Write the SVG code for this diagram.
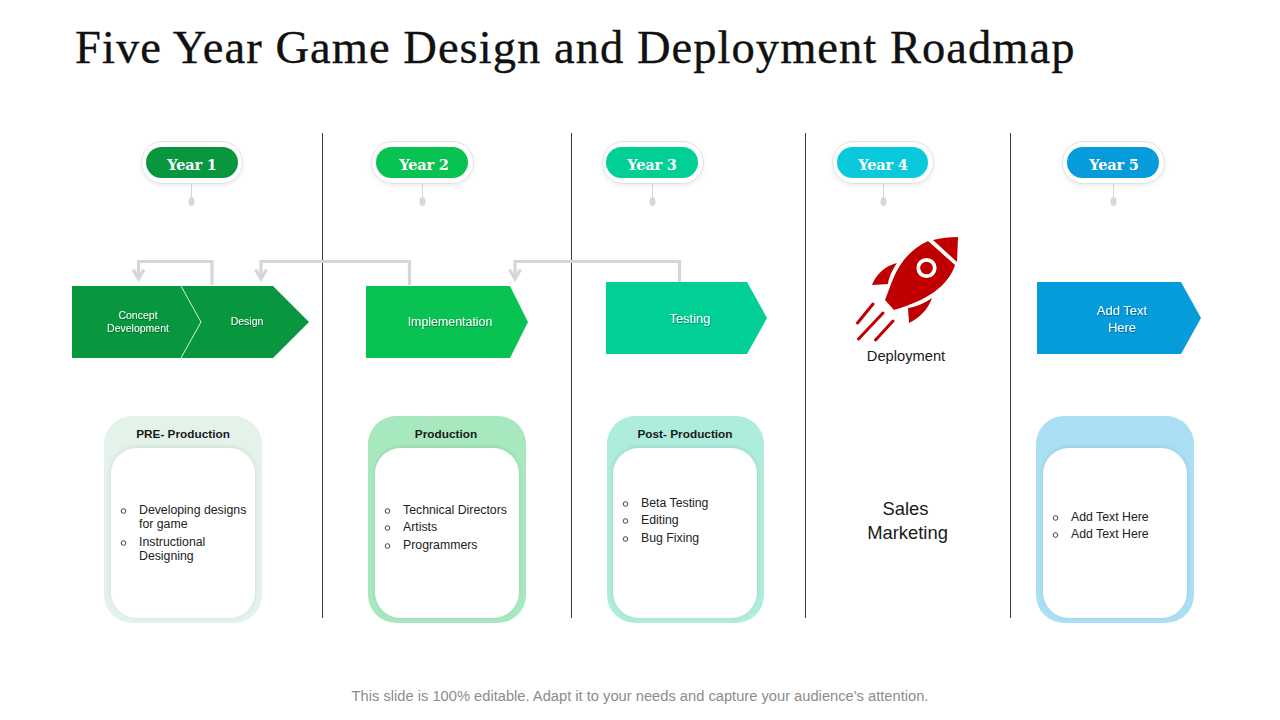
<svg xmlns="http://www.w3.org/2000/svg" width="1280" height="720" viewBox="0 0 1280 720">
<defs>
<filter id="soft" x="-20%" y="-20%" width="140%" height="150%"><feDropShadow dx="0" dy="2" stdDeviation="2" flood-color="#000" flood-opacity="0.07"/></filter>
<filter id="inner" x="-10%" y="-10%" width="120%" height="120%"><feDropShadow dx="0" dy="-1" stdDeviation="2" flood-color="#000" flood-opacity="0.10"/></filter>
<filter id="ts" x="-10%" y="-20%" width="120%" height="150%"><feDropShadow dx="0.5" dy="1" stdDeviation="0.5" flood-color="#000" flood-opacity="0.35"/></filter>
<g id="pin"><line x1="0" y1="-15" x2="0" y2="0" stroke="#d4d4d4" stroke-width="1"/><ellipse cx="0" cy="2.500" rx="3" ry="4.500" fill="#d8d8d8"/></g>
</defs>
<style>
text{font-family:"Liberation Sans",Arial,sans-serif}
.title{font-family:"Liberation Serif","Times New Roman",serif;font-size:46.5px;fill:#111;letter-spacing:1.05px;stroke:#111;stroke-width:.35px}
.yr{font-family:"DejaVu Serif",serif;font-size:14.5px;font-weight:700;fill:#fff;text-anchor:middle;letter-spacing:-.2px}
.ring{fill:#fff;stroke:#e0e0e0;stroke-width:1;filter:url(#soft)}
.div{stroke:#3c3c3c;stroke-width:1;fill:none}
.conn{fill:none;stroke:#d6d6d6;stroke-width:3.2}
.ch{fill:#fff;text-anchor:middle;filter:url(#ts)}
.head{font-size:11.800px;font-weight:700;fill:#1a1a1a;text-anchor:middle}
.li{font-size:12.300px;fill:#222}
.bul{fill:none;stroke:#333;stroke-width:.9}
.inner{fill:#fff;filter:url(#inner)}
</style>
<rect width="1280" height="720" fill="#fff"/>
<text class="title" x="75" y="63">Five Year Game Design and Deployment Roadmap</text>
<g id="dividers" class="div">
<line x1="322.500" y1="133" x2="322.500" y2="618"/>
<line x1="571.500" y1="133" x2="571.500" y2="618"/>
<line x1="805.500" y1="133" x2="805.500" y2="618"/>
<line x1="1010.500" y1="133" x2="1010.500" y2="618"/>
</g>
<g id="year1"><rect class="ring" x="141.500" y="141.500" width="101" height="42" rx="21"/><rect x="146" y="147" width="92" height="31" rx="15.500" fill="#08973f"/><text class="yr" x="192" y="170">Year 1</text><use href="#pin" x="191.500" y="199"/></g>
<g id="year2"><rect class="ring" x="371.500" y="141.500" width="102" height="42" rx="21"/><rect x="376" y="147" width="92" height="31" rx="15.500" fill="#08c352"/><text class="yr" x="424" y="170">Year 2</text><use href="#pin" x="422.500" y="199"/></g>
<g id="year3"><rect class="ring" x="602.500" y="141.500" width="101" height="42" rx="21"/><rect x="606" y="147" width="92" height="31" rx="15.500" fill="#02cf95"/><text class="yr" x="652" y="170">Year 3</text><use href="#pin" x="652.500" y="199"/></g>
<g id="year4"><rect class="ring" x="832.500" y="141.500" width="101" height="42" rx="21"/><rect x="837" y="147" width="91" height="31" rx="15.500" fill="#0bc9dc"/><text class="yr" x="883" y="170">Year 4</text><use href="#pin" x="883.500" y="199"/></g>
<g id="year5"><rect class="ring" x="1062.500" y="141.500" width="102" height="42" rx="21"/><rect x="1067" y="147" width="92" height="31" rx="15.500" fill="#069bdb"/><text class="yr" x="1114" y="170">Year 5</text><use href="#pin" x="1113.500" y="199"/></g>
<g id="connectors" class="conn">
<path d="M212 285V261.500H138.500V279"/><path d="M133 269.500l5.500 9.500 5.500-9.500"/>
<path d="M409.500 285V261.500H261V279"/><path d="M255.500 269.500l5.500 9.500 5.500-9.500"/>
<path d="M679.500 282V261.500H515V279"/><path d="M509.500 269.500l5.500 9.500 5.500-9.500"/>
</g>
<g id="concept-design"><path d="M72 286H273L309 322L273 358H72Z" fill="#08973f"/><path d="M181 286L201 322L181 358" fill="none" stroke="#d8f0dc" stroke-width="1"/><text class="ch" font-size="10.500" x="138" y="319">Concept</text><text class="ch" font-size="10.500" x="138" y="332">Development</text><text class="ch" font-size="10.500" x="247" y="325">Design</text></g>
<g id="implementation"><path d="M366 286H510L528 322L510 358H366Z" fill="#08c352"/><text class="ch" font-size="12.400" x="450" y="326">Implementation</text></g>
<g id="testing"><path d="M606 282H747L767 318L747 354H606Z" fill="#02cf95"/><text class="ch" font-size="13" x="690" y="322.500">Testing</text></g>
<g id="deployment">
<path d="M933 240C941 238 949 237 958 237L957 262Z" fill="#c00000"/>
<path d="M928 241L955 265C950 281 935 298 894 310L885 300C893 281 897 256 928 241Z" fill="#c00000"/>
<circle cx="926.500" cy="268" r="8.200" fill="none" stroke="#fff" stroke-width="3.800"/>
<path d="M897 263C884 266 876 275 872 285L888 284C889 276 893 269 897 263Z" fill="#c00000"/>
<path d="M932 298C928 310 918 319 909 323L908 308C916 307 925 303 932 298Z" fill="#c00000"/>
<path d="M857.500 323L873 304M858.500 339L883 313M875.500 340L893 321" fill="none" stroke="#c00000" stroke-width="3" stroke-linecap="round"/>
<text x="906" y="361" font-size="14.700" fill="#1a1a1a" text-anchor="middle">Deployment</text>
</g>
<g id="card1"><rect x="104" y="416" width="158" height="207" rx="28" fill="#e4f3ea"/><rect class="inner" x="111" y="448" width="144" height="170" rx="26"/><text class="head" x="183" y="438">PRE- Production</text><circle class="bul" cx="123.500" cy="511" r="2.300"/><circle class="bul" cx="123.500" cy="543" r="2.300"/><text class="li" x="139" y="514">Developing designs</text><text class="li" x="139" y="528">for game</text><text class="li" x="139" y="546">Instructional</text><text class="li" x="139" y="560">Designing</text></g>
<g id="card2"><rect x="368" y="416" width="158" height="207" rx="28" fill="#a8e8bf"/><rect class="inner" x="375" y="448" width="144" height="170" rx="26"/><text class="head" x="446" y="438">Production</text><circle class="bul" cx="387.500" cy="511" r="2.300"/><circle class="bul" cx="387.500" cy="528" r="2.300"/><circle class="bul" cx="387.500" cy="546" r="2.300"/><text class="li" x="403" y="514">Technical Directors</text><text class="li" x="403" y="531">Artists</text><text class="li" x="403" y="549">Programmers</text></g>
<g id="card3"><rect x="607" y="416" width="157" height="207" rx="28" fill="#aeecdc"/><rect class="inner" x="613" y="448" width="144" height="170" rx="26"/><text class="head" x="685" y="438">Post- Production</text><circle class="bul" cx="625.500" cy="504" r="2.300"/><circle class="bul" cx="625.500" cy="521" r="2.300"/><circle class="bul" cx="625.500" cy="539" r="2.300"/><text class="li" x="641" y="507">Beta Testing</text><text class="li" x="641" y="524">Editing</text><text class="li" x="641" y="542">Bug Fixing</text></g>
<g id="sales"><text x="905.500" y="515" font-size="18.400" fill="#1a1a1a" text-anchor="middle">Sales</text><text x="907.500" y="539" font-size="18.400" fill="#1a1a1a" text-anchor="middle">Marketing</text></g>
<g id="add-text"><path d="M1037 282H1181L1201 318L1181 354H1037Z" fill="#069bdb"/><text class="ch" font-size="13" x="1122" y="314.500">Add Text</text><text class="ch" font-size="13" x="1122" y="331.500">Here</text></g>
<g id="card5"><rect x="1036" y="416" width="158" height="207" rx="28" fill="#abdff4"/><rect class="inner" x="1043" y="448" width="144" height="170" rx="26"/><circle class="bul" cx="1055.500" cy="518" r="2.300"/><circle class="bul" cx="1055.500" cy="535" r="2.300"/><text class="li" x="1071" y="521">Add Text Here</text><text class="li" x="1071" y="538">Add Text Here</text></g>
<text x="640" y="701" font-size="14.700" fill="#8c8c8c" text-anchor="middle">This slide is 100% editable. Adapt it to your needs and capture your audience's attention.</text>
</svg>
